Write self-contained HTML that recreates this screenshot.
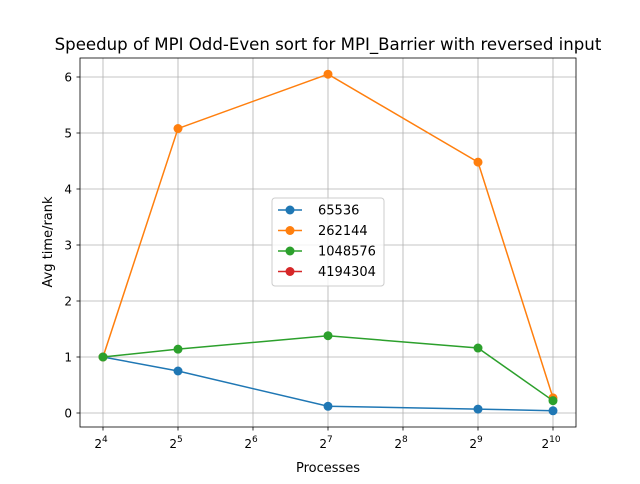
<!DOCTYPE html>
<html><head><meta charset="utf-8"><style>
body{margin:0;background:#fff;font-family:"DejaVu Sans","Liberation Sans",sans-serif;}
svg text{font-family:"DejaVu Sans","Liberation Sans",sans-serif;fill:#000}
</style></head><body>
<svg id="chart" width="640" height="480" xmlns="http://www.w3.org/2000/svg">
<rect width="640" height="480" fill="#fff"/>
<g id="grid"></g>
<g id="series"></g>
<rect x="80" y="58" width="496" height="369" fill="none" stroke="#000" stroke-width="0.8"/>
<g id="ticks"></g>
<text x="328" y="50" text-anchor="middle" font-size="16.6">Speedup of MPI Odd-Even sort for MPI_Barrier with reversed input</text>
<text x="328" y="472" text-anchor="middle" font-size="13">Processes</text>
<text transform="translate(52,242) rotate(-90)" text-anchor="middle" font-size="13">Avg time/rank</text>
<g id="legend"></g>
</svg>
<script>
const xExps = [4,5,7,9,10];
const seriesNames = ["65536","262144","1048576","4194304"];
const s65536 = [1, 0.75, 0.12, 0.07, 0.04];
const s262144 = [1, 5.08, 6.05, 4.48, 0.27];
const s1048576 = [1, 1.14, 1.38, 1.16, 0.22];
const s4194304 = [];
const xTicks = [4,5,6,7,8,9,10];
const yTicks = [0,1,2,3,4,5,6];
const colors = ["#1f77b4","#ff7f0e","#2ca02c","#d62728"];
const allSeries = [s65536,s262144,s1048576,s4194304];
const NS="http://www.w3.org/2000/svg";
function xs(e){return 103+(e-4)*75;}
function ys(v){return 413-v*56;}
function mk(t,a,p){const el=document.createElementNS(NS,t);for(const k in a)el.setAttribute(k,a[k]);p.appendChild(el);return el;}
const grid=document.getElementById('grid'),ticks=document.getElementById('ticks'),ser=document.getElementById('series'),leg=document.getElementById('legend');
xTicks.forEach(e=>{const x=xs(e);
 const g=mk('line',{x1:x,x2:x,y1:58,y2:427,stroke:'#b0b0b0','stroke-width':0.8},grid);
 
 
 mk('line',{x1:x,x2:x,y1:427,y2:430.5,stroke:'#000','stroke-width':0.8},ticks);
 const t=mk('text',{x:x-2,y:448,'text-anchor':'middle','font-size':12},ticks);
 
 
 t.textContent='2';const s=mk('tspan',{dy:-6,'font-size':9},t);s.textContent=e;});
yTicks.forEach(v=>{const y=ys(v);
 const g=mk('line',{x1:80,x2:576,y1:y,y2:y,stroke:'#b0b0b0','stroke-width':0.8},grid);
 
 
 mk('line',{x1:76.5,x2:80,y1:y,y2:y,stroke:'#000','stroke-width':0.8},ticks);
 const t=mk('text',{x:72,y:y+4.5,'text-anchor':'end','font-size':12},ticks);
 
 
 t.textContent=v;});
allSeries.forEach((d,i)=>{if(!d.length)return;
 const pts=d.map((v,j)=>xs(xExps[j])+','+ys(v)).join(' ');
 const l=mk('polyline',{points:pts,fill:'none',stroke:colors[i],'stroke-width':1.5},ser);
 
 
 d.forEach((v,j)=>{const c=mk('circle',{cx:xs(xExps[j]),cy:ys(v),r:4.5,fill:colors[i]},ser);
  
  });});
const lb=mk('rect',{x:272,y:198,width:112,height:88,rx:3,fill:'#fff','fill-opacity':0.8,stroke:'#ccc'},leg);


seriesNames.forEach((n,i)=>{const y=210+i*20.5;
 mk('line',{x1:278,x2:302,y1:y,y2:y,stroke:colors[i],'stroke-width':1.5},leg);
 mk('circle',{cx:290,cy:y,r:4.5,fill:colors[i]},leg);
 const t=mk('text',{x:318,y:y+4.5,'font-size':13},leg);
 
 
 t.textContent=n;});
</script>
</body></html>
